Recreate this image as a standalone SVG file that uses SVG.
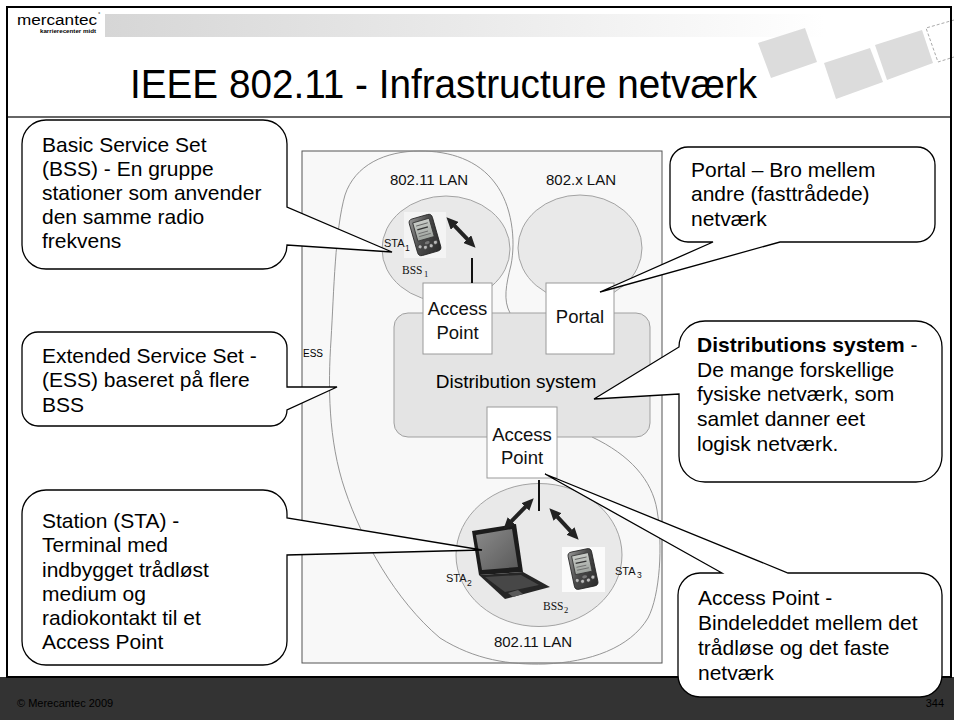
<svg xmlns="http://www.w3.org/2000/svg" width="954" height="720" viewBox="0 0 954 720">
  <defs>
    <style>
      text { font-family: "Liberation Sans", Arial, sans-serif; fill: #000; }
      .narrow { font-family: "Liberation Sans Narrow", "Liberation Sans", Arial, sans-serif; }
      .ct { font-size: 21px; }
      .ctb { font-size: 21px; font-weight: bold; }
      .callout { fill: #fff; stroke: #000; stroke-width: 1.3; }
      .lan { fill: #e9e9e9; stroke: #9a9a9a; stroke-width: 0.9; }
      .box { fill: #fff; stroke: #9a9a9a; stroke-width: 1; }
      .bt { font-size: 18.5px; text-anchor: middle; fill: #111; }
      .lbl { font-size: 15px; text-anchor: middle; fill: #111; }
      .sta { font-size: 11px; fill: #111; }
      .bss { font-family: "Liberation Serif", "Times New Roman", serif; font-size: 11.5px; fill: #111; }
      .sub { font-size: 8.5px; }
      .deco { fill: #dcdcdc; }
      .radio { stroke: #222; stroke-width: 4; fill: none; marker-start: url(#head); marker-end: url(#head); }
      .wire { stroke: #111; stroke-width: 2; }
    </style>
    <linearGradient id="headerBand" x1="0" y1="0" x2="1" y2="0">
      <stop offset="0" stop-color="#d6d6d6"/>
      <stop offset="0.55" stop-color="#ececec"/>
      <stop offset="1" stop-color="#ffffff"/>
    </linearGradient>
    <linearGradient id="pdaBody" x1="0" y1="0" x2="1" y2="1">
      <stop offset="0" stop-color="#9a9a9a"/>
      <stop offset="0.45" stop-color="#4a4a4a"/>
      <stop offset="1" stop-color="#2a2a2a"/>
    </linearGradient>
    <linearGradient id="lcd" x1="0" y1="0" x2="0" y2="1">
      <stop offset="0" stop-color="#c9ccc8"/>
      <stop offset="1" stop-color="#9ea39e"/>
    </linearGradient>
    <linearGradient id="laptopScreen" x1="0" y1="0" x2="1" y2="1">
      <stop offset="0" stop-color="#8a8a8a"/>
      <stop offset="1" stop-color="#5a5a5a"/>
    </linearGradient>
    <marker id="head" viewBox="0 0 12 11" refX="0.5" refY="5.5" markerUnits="userSpaceOnUse" markerWidth="12" markerHeight="11" orient="auto-start-reverse">
      <path d="M0,0 L12,5.5 L0,11 Z" fill="#222"/>
    </marker>
    <!-- handheld PDA, centred on the origin -->
    <g id="pda">
      <rect x="-12" y="-19" width="24" height="38" rx="4" fill="url(#pdaBody)" stroke="#222" stroke-width="0.8"/>
      <rect x="-8.5" y="-15" width="17" height="19" fill="url(#lcd)" stroke="#333" stroke-width="0.8"/>
      <line x1="-6" y1="-11" x2="6" y2="-11" stroke="#555" stroke-width="0.8"/>
      <line x1="-6" y1="-7" x2="5" y2="-7" stroke="#333" stroke-width="1.4"/>
      <line x1="-6" y1="-3" x2="4" y2="-3" stroke="#666" stroke-width="0.8"/>
      <line x1="-6" y1="0" x2="6" y2="0" stroke="#666" stroke-width="0.8"/>
      <circle cx="-8" cy="10" r="2" fill="#bbb" stroke="#333" stroke-width="0.6"/>
      <circle cx="-3" cy="12" r="2" fill="#bbb" stroke="#333" stroke-width="0.6"/>
      <circle cx="3" cy="12" r="2" fill="#bbb" stroke="#333" stroke-width="0.6"/>
      <circle cx="8" cy="10" r="2" fill="#bbb" stroke="#333" stroke-width="0.6"/>
      <ellipse cx="0" cy="8" rx="2.5" ry="1.5" fill="#777"/>
    </g>
  </defs>

  <!-- slide background -->
  <rect x="0" y="0" width="954" height="720" fill="#fff"/>

  <!-- header: logo, band, title, decoration -->
  <g id="header">
    <rect x="105" y="14" width="720" height="23" fill="url(#headerBand)"/>
    <text x="17" y="25" font-size="14" textLength="80" lengthAdjust="spacingAndGlyphs" fill="#222">mercantec</text>
    <text x="98" y="16" font-size="6" fill="#222">°</text>
    <text x="40" y="33" font-size="5" font-weight="bold" textLength="56" lengthAdjust="spacingAndGlyphs" fill="#444">karrierecenter midt</text>
    <text class="narrow" x="130" y="98" font-size="40" textLength="627" lengthAdjust="spacingAndGlyphs" fill="#111">IEEE 802.11 - Infrastructure netværk</text>
    <polygon class="deco" points="758,43 805,28 817,62 771,78"/>
    <polygon class="deco" points="824,63 870,48 883,82 836,99"/>
    <polygon class="deco" points="875,45 922,30 933,63 887,80"/>
    <polyline points="954,20 926,28 938,62 954,57" fill="none" stroke="#aaa" stroke-width="1" stroke-dasharray="3,2"/>
    <line x1="8" y1="117" x2="951" y2="117" stroke="#333" stroke-width="1.5"/>
  </g>

  <!-- network frame -->
  <g id="frame">
    <rect x="302" y="151" width="360" height="512" fill="#f8f8f8" stroke="#555" stroke-width="1"/>
  </g>

  <!-- extended service set outline -->
  <g id="ess">
    <path d="M 510,313 C 503,300 506,285 511,265 C 516,240 512,205 495,183 C 478,160 450,151 420,151 C 385,151 355,165 345,195 C 335,230 334,290 331,340 C 328,385 328,440 345,490 C 362,540 395,600 440,638 C 475,660 510,665 545,664 C 590,662 630,648 648,618 C 660,595 663,545 657,510 C 652,480 630,455 592,437 Z" fill="none" stroke="#8a8a8a" stroke-width="0.9"/>
    <text x="303" y="357" font-size="10" fill="#222">ESS</text>
  </g>

  <!-- upper 802.11 LAN (BSS1) -->
  <g id="bss1">
    <text class="lbl" x="429" y="185">802.11 LAN</text>
    <ellipse class="lan" cx="446" cy="249" rx="64" ry="53"/>
    <rect x="404" y="212" width="42" height="46" fill="#f4f4f4"/>
    <use href="#pda" transform="translate(425,235) rotate(-16)"/>
    <text class="sta" x="384" y="247">STA<tspan class="sub" x="405" y="251">1</tspan></text>
    <text class="bss" x="402" y="274">BSS<tspan class="sub" x="424" y="277">1</tspan></text>
  </g>

  <!-- 802.x LAN -->
  <g id="lanx">
    <text class="lbl" x="581" y="185">802.x LAN</text>
    <ellipse class="lan" cx="580" cy="248" rx="62" ry="53"/>
  </g>

  <!-- distribution system -->
  <g id="distribution">
    <rect x="394" y="313" width="256" height="124" rx="14" fill="#e4e4e4" stroke="#a0a0a0" stroke-width="1"/>
    <text x="516" y="388" font-size="19" text-anchor="middle" fill="#111">Distribution system</text>
  </g>

  <!-- lower 802.11 LAN (BSS2) -->
  <g id="bss2">
    <ellipse class="lan" cx="539" cy="555" rx="83" ry="71.5"/>
    <text class="lbl" x="533" y="647">802.11 LAN</text>
    <!-- laptop -->
    <polygon points="472,531 516,524 523,572 479,575" fill="#1c1c1c"/>
    <polygon points="476,535 512,529 518,567 482,570" fill="url(#laptopScreen)"/>
    <polygon points="479,575 523,572 550,587 505,599" fill="#262626"/>
    <polygon points="485,577 521,575 539,585 505,592" fill="#474747"/>
    <polygon points="508,593 518,590 523,594 513,597" fill="#5a5a5a"/>
    <text class="sta" x="446" y="582">STA<tspan class="sub" x="467" y="586">2</tspan></text>
    <text class="bss" x="543" y="610">BSS<tspan class="sub" x="564" y="613">2</tspan></text>
    <!-- handheld -->
    <rect x="562" y="547" width="43" height="45" fill="#fbfbfb"/>
    <use href="#pda" transform="translate(583,569) rotate(-12)"/>
    <text class="sta" x="615" y="575">STA<tspan class="sub" x="637" y="578">3</tspan></text>
  </g>

  <!-- access points and portal -->
  <g id="ap1">
    <rect class="box" x="423" y="283" width="69" height="71"/>
    <text class="bt" x="457.5" y="315">Access</text>
    <text class="bt" x="457.5" y="339">Point</text>
  </g>
  <g id="portal">
    <rect class="box" x="546" y="283" width="68" height="71"/>
    <text class="bt" x="580" y="323">Portal</text>
  </g>
  <g id="ap2">
    <rect class="box" x="487" y="407" width="70" height="71"/>
    <text class="bt" x="522" y="441">Access</text>
    <text class="bt" x="522" y="464">Point</text>
  </g>

  <!-- connectors: antenna wires and radio links -->
  <g id="connectors">
    <line class="wire" x1="472" y1="258" x2="472" y2="283"/>
    <line class="wire" x1="539" y1="480" x2="539" y2="511"/>
    <line class="radio" x1="454.4" y1="225.6" x2="467.6" y2="239.4"/>
    <line class="radio" x1="511.3" y1="521.4" x2="525.7" y2="506.6"/>
    <line class="radio" x1="557.2" y1="516.7" x2="570.8" y2="531.3"/>
  </g>

  <!-- footer bar -->
  <g id="footer">
    <rect x="0" y="677" width="954" height="43" fill="#333"/>
    <text class="narrow" x="17" y="707" font-size="11" fill="#c8c8c8">© Merecantec 2009</text>
    <text class="narrow" x="944" y="707" font-size="11" fill="#c8c8c8" text-anchor="end">344</text>
  </g>

  <!-- slide border -->
  <rect x="7" y="7" width="944" height="670" fill="none" stroke="#000" stroke-width="2"/>

  <!-- callouts -->
  <g id="callout-bss">
    <path class="callout" d="M 46,120 H 263 A 24 24 0 0 1 287,144 V 207 L 392,252 L 287,245 A 24 24 0 0 1 263,269 H 46 A 24 24 0 0 1 22,245 V 144 A 24 24 0 0 1 46,120 Z"/>
    <text class="ct" x="42" y="152">Basic Service Set</text>
    <text class="ct" x="42" y="176">(BSS) - En gruppe</text>
    <text class="ct" x="42" y="200">stationer som anvender</text>
    <text class="ct" x="42" y="224">den samme radio</text>
    <text class="ct" x="42" y="248">frekvens</text>
  </g>

  <g id="callout-portal">
    <path class="callout" d="M 688,147 H 917 A 18 18 0 0 1 935,165 V 224 A 18 18 0 0 1 917,242 H 780 L 600,292 L 713,242 H 688 A 18 18 0 0 1 670,224 V 165 A 18 18 0 0 1 688,147 Z"/>
    <text class="ct" x="691" y="177">Portal – Bro mellem</text>
    <text class="ct" x="691" y="201">andre (fasttrådede)</text>
    <text class="ct" x="691" y="226">netværk</text>
  </g>

  <g id="callout-ess">
    <path class="callout" d="M 38,332 H 271 A 16 16 0 0 1 287,348 V 387 L 337,387 L 287,410 A 16 16 0 0 1 271,426 H 38 A 16 16 0 0 1 22,410 V 348 A 16 16 0 0 1 38,332 Z"/>
    <text class="ct" x="42" y="363">Extended Service Set -</text>
    <text class="ct" x="42" y="387">(ESS) baseret på flere</text>
    <text class="ct" x="42" y="412">BSS</text>
  </g>

  <g id="callout-sta">
    <path class="callout" d="M 46,490 H 263 A 24 24 0 0 1 287,514 V 518 L 482,550 L 287,555 V 641 A 24 24 0 0 1 263,665 H 46 A 24 24 0 0 1 22,641 V 514 A 24 24 0 0 1 46,490 Z"/>
    <text class="ct" x="42" y="528">Station (STA) -</text>
    <text class="ct" x="42" y="552">Terminal med</text>
    <text class="ct" x="42" y="577">indbygget trådløst</text>
    <text class="ct" x="42" y="601">medium og</text>
    <text class="ct" x="42" y="625">radiokontakt til et</text>
    <text class="ct" x="42" y="649">Access Point</text>
  </g>

  <g id="callout-ds">
    <path class="callout" d="M 705,321 H 916 A 26 26 0 0 1 942,347 V 456 A 26 26 0 0 1 916,482 H 705 A 26 26 0 0 1 679,456 V 394 L 594,399 L 679,347 A 26 26 0 0 1 705,321 Z"/>
    <text x="697" y="352"><tspan class="ctb">Distributions system</tspan><tspan class="ct"> -</tspan></text>
    <text class="ct" x="697" y="377">De mange forskellige</text>
    <text class="ct" x="697" y="401">fysiske netværk, som</text>
    <text class="ct" x="697" y="426">samlet danner eet</text>
    <text class="ct" x="697" y="451">logisk netværk.</text>
  </g>

  <g id="callout-ap">
    <path class="callout" d="M 700,573 H 722 L 545,474 L 788,573 H 920 A 22 22 0 0 1 942,595 V 675 A 22 22 0 0 1 920,697 H 700 A 22 22 0 0 1 678,675 V 595 A 22 22 0 0 1 700,573 Z"/>
    <text class="ct" x="698" y="605">Access Point -</text>
    <text class="ct" x="698" y="630">Bindeleddet mellem det</text>
    <text class="ct" x="698" y="655">trådløse og det faste</text>
    <text class="ct" x="698" y="680">netværk</text>
  </g>
</svg>
